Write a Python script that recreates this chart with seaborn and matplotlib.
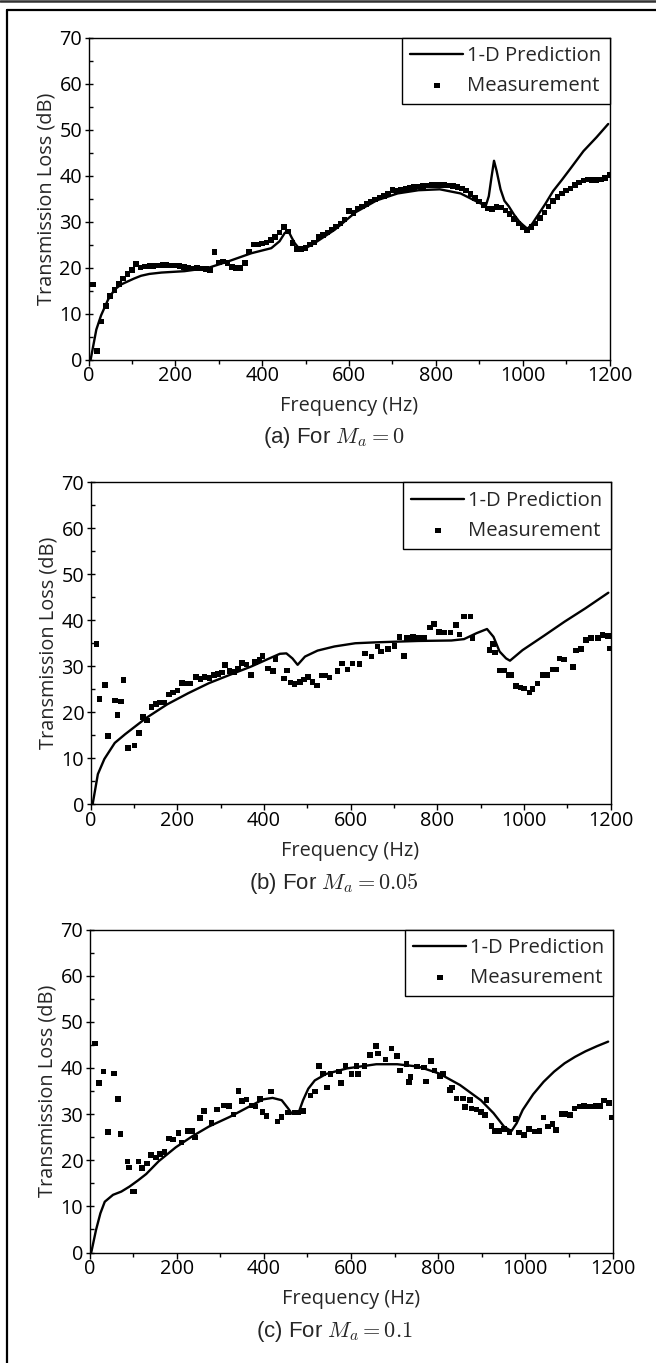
import matplotlib
matplotlib.use("Agg")
import numpy as np
import pandas as pd
import seaborn as sns
import matplotlib.pyplot as plt
from matplotlib.ticker import MultipleLocator
from matplotlib.lines import Line2D

# ---------------- data ----------------
# (a) Ma = 0
pred_a_freq = [5, 12, 18, 29, 45, 60, 75, 91, 105, 121, 140, 168, 221, 275, 321, 375, 421, 440, 452, 460,
               468, 475, 487, 500, 519, 567, 615, 664, 712, 760, 809, 857, 895, 915, 922, 928, 934, 940, 949, 958,
               968, 980, 992, 1000, 1011, 1022, 1036, 1052, 1070, 1090, 1110, 1140, 1170, 1197]
pred_a_tl = [0, 3.5, 6.5, 9.6, 13.0, 15.2, 16.3, 17.0, 17.6, 18.2, 18.6, 18.9, 19.2, 19.9, 21.3, 23.1, 24.2, 25.7, 27.5, 28.0,
             26.5, 25.3, 23.9, 24.2, 25.2, 28.2, 32.0, 34.6, 36.1, 36.8, 37.0, 36.1, 34.3, 33.4, 35.5, 39.5, 43.2, 41.0, 37.0, 34.5,
             33.3, 31.5, 30.0, 29.3, 28.4, 29.5, 31.5, 33.8, 36.6, 39.0, 41.5, 45.3, 48.3, 51.2]
meas_a_freq = list(range(10, 1201, 10))
meas_a_tl = [16.3, 1.8, 8.3, 11.6, 13.8, 15.1, 16.4, 17.6, 18.6, 19.4,
             20.8, 20.0, 20.2, 20.3, 20.3, 20.4, 20.6, 20.5, 20.4, 20.4,
             20.3, 20.1, 19.9, 19.8, 19.9, 19.8, 19.7, 19.5, 23.4, 21.1,
             21.3, 21.0, 20.1, 19.9, 19.9, 21.0, 23.5, 25.0, 25.0, 25.2,
             25.4, 26.0, 26.6, 27.6, 28.8, 27.8, 25.3, 24.0, 24.0, 24.2,
             25.0, 25.4, 26.6, 27.1, 27.6, 28.3, 28.9, 29.6, 30.4, 32.3,
             31.8, 32.8, 33.3, 33.8, 34.3, 34.8, 35.2, 35.6, 36.0, 36.9,
             36.6, 36.9, 37.1, 37.3, 37.5, 37.6, 37.7, 37.8, 37.9, 37.9,
             37.9, 37.9, 37.8, 37.7, 37.5, 37.2, 36.7, 36.0, 35.1, 34.3,
             33.6, 32.8, 32.7, 33.1, 33.0, 32.4, 31.6, 30.6, 29.6, 28.7,
             28.2, 28.8, 29.6, 30.8, 32.0, 33.3, 34.4, 35.3, 36.1, 36.7,
             37.2, 37.9, 38.5, 38.9, 39.1, 39.0, 39.0, 39.1, 39.4, 40.1]

# (b) Ma = 0.05
pred_b_freq = [5, 17, 32, 56, 80, 128, 177, 225, 273, 321, 370, 408, 437, 452, 466, 478, 495, 524, 563, 611,
               659, 756, 833, 862, 891, 915, 930, 944, 959, 968, 997, 1046, 1094, 1142, 1195]
pred_b_tl = [0, 6.5, 9.8, 13.3, 15.2, 18.7, 21.7, 24.1, 26.3, 28.1, 29.9, 31.5, 32.7, 32.8, 31.7, 30.3, 32.1, 33.4, 34.3, 35.0,
             35.2, 35.5, 35.6, 35.9, 37.2, 38.1, 36.4, 33.2, 31.7, 31.2, 33.5, 36.6, 39.7, 42.6, 46.0]
meas_b_freq = [14, 21, 33, 41, 56, 62, 71, 76, 87, 102,
               112, 121, 131, 141, 151, 160, 170, 181, 191, 201,
               211, 221, 231, 244, 254, 263, 275, 285, 294, 303,
               311, 321, 331, 340, 350, 360, 371, 380, 390, 397,
               410, 421, 427, 446, 453, 462, 471, 483, 493, 502,
               512, 523, 533, 542, 552, 570, 581, 593, 605, 621,
               633, 648, 662, 671, 686, 702, 713, 723, 731, 744,
               756, 770, 783, 793, 804, 816, 831, 844, 852, 862,
               877, 882, 921, 929, 933, 944, 954, 965, 971, 982,
               992, 1001, 1013, 1020, 1032, 1043, 1055, 1066, 1074, 1082,
               1093, 1113, 1120, 1132, 1144, 1155, 1171, 1182, 1194, 1199]
meas_b_tl = [34.8, 22.9, 25.9, 14.8, 22.5, 19.4, 22.3, 27.0, 12.2, 12.7,
             15.4, 18.9, 18.2, 21.1, 21.8, 22.1, 22.1, 23.8, 24.3, 24.7,
             26.3, 26.2, 26.2, 27.7, 27.2, 27.6, 27.4, 28.1, 28.3, 28.6,
             30.3, 29.0, 28.8, 29.5, 30.7, 30.4, 28.1, 30.9, 31.3, 32.2,
             29.5, 29.0, 31.6, 27.3, 29.1, 26.5, 26.1, 26.6, 27.1, 27.7,
             26.6, 25.8, 28.0, 28.0, 27.5, 29.0, 30.6, 29.3, 30.6, 30.5,
             32.8, 32.1, 34.3, 33.2, 33.7, 34.4, 36.4, 32.2, 36.1, 36.4,
             36.1, 36.1, 38.4, 39.2, 37.5, 37.3, 37.3, 39.0, 36.9, 40.8,
             40.8, 36.1, 33.5, 34.8, 33.0, 29.1, 29.1, 28.1, 28.1, 25.7,
             25.4, 25.1, 24.3, 25.0, 26.2, 28.1, 28.1, 29.3, 29.3, 31.7,
             31.5, 29.8, 33.4, 33.7, 35.7, 36.1, 36.1, 36.8, 36.6, 33.9]

# (c) Ma = 0.1
pred_c_freq = [4, 15, 25, 35, 54, 73, 92, 111, 130, 159, 198, 236, 274, 322, 370, 399, 420, 441, 456, 464,
               479, 490, 502, 517, 543, 591, 658, 706, 754, 802, 850, 898, 927, 951, 968, 980, 994, 1018, 1042, 1066,
               1090, 1114, 1138, 1164, 1190]
pred_c_tl = [0, 4.9, 8.5, 11.0, 12.5, 13.2, 14.3, 15.6, 17.0, 19.8, 22.8, 25.2, 27.3, 29.4, 31.8, 33.2, 33.5, 33.0, 31.2, 30.1,
             30.1, 33.0, 35.5, 37.3, 38.7, 39.9, 40.8, 40.8, 40.3, 38.8, 36.3, 33.0, 30.2, 27.3, 26.3, 28.0, 30.9, 34.3, 37.0, 39.2,
             41.0, 42.4, 43.6, 44.7, 45.7]
meas_c_freq = [13, 22, 32, 42, 56, 66, 71, 87, 91, 99,
               103, 112, 121, 132, 141, 152, 162, 172, 182, 192,
               204, 211, 225, 236, 242, 253, 263, 280, 292, 309,
               320, 330, 342, 350, 360, 372, 381, 391, 397, 406,
               416, 431, 441, 456, 470, 479, 491, 507, 517, 526,
               536, 545, 553, 572, 577, 587, 601, 613, 616, 631,
               643, 657, 662, 679, 693, 706, 713, 727, 733, 737,
               752, 768, 772, 783, 792, 804, 811, 827, 832, 842,
               857, 861, 873, 876, 888, 898, 907, 911, 922, 931,
               941, 951, 964, 977, 986, 997, 1008, 1022, 1032, 1042,
               1052, 1062, 1071, 1083, 1092, 1103, 1113, 1125, 1135, 1148,
               1161, 1171, 1181, 1192, 1199]
meas_c_tl = [45.3, 36.7, 39.2, 26.1, 38.8, 33.3, 25.7, 19.7, 18.4, 13.2,
             13.2, 19.7, 18.3, 19.3, 21.1, 20.6, 21.3, 21.8, 24.7, 24.5,
             25.9, 23.8, 26.3, 26.3, 24.9, 29.2, 30.7, 28.1, 31.0, 31.9,
             31.7, 29.9, 35.0, 32.8, 33.2, 31.9, 31.6, 33.3, 30.5, 29.6,
             34.9, 28.4, 29.4, 30.3, 30.3, 30.3, 30.7, 34.0, 34.9, 40.4,
             38.8, 35.8, 38.7, 39.2, 36.7, 40.5, 38.7, 40.4, 38.7, 40.4,
             42.8, 44.7, 43.1, 41.8, 44.2, 42.6, 39.4, 40.8, 37.0, 38.0,
             40.3, 40.1, 37.1, 41.5, 39.4, 38.2, 38.7, 35.2, 35.8, 33.4,
             33.4, 31.5, 33.0, 31.2, 31.0, 30.5, 29.8, 33.0, 27.4, 26.3,
             26.3, 26.8, 26.1, 28.9, 26.0, 25.5, 26.8, 26.2, 26.3, 29.3,
             27.3, 27.8, 26.5, 30.0, 30.0, 29.8, 31.2, 31.6, 31.7, 31.6,
             31.7, 31.7, 32.9, 32.4, 29.3]

captions = ["(a) For $M_a = 0$", "(b) For $M_a = 0.05$", "(c) For $M_a = 0.1$"]
x_ticks = [0, 200, 400, 600, 800, 1000, 1200]
y_ticks = [0, 10, 20, 30, 40, 50, 60, 70]

# ---------------- style ----------------
sns.set_theme(style="ticks")
plt.rcParams['font.family'] = ['Open Sans', 'DejaVu Sans']
plt.rcParams['mathtext.fontset'] = 'cm'
plt.rcParams['axes.edgecolor'] = 'black'
plt.rcParams['axes.linewidth'] = 1.0
plt.rcParams['xtick.color'] = 'black'
plt.rcParams['ytick.color'] = 'black'

W, H = 656, 1363
fig = plt.figure(figsize=(W / 100, H / 100), dpi=100)

# axes boxes in pixels: left, top, right, bottom
boxes = [(88.5, 37.5, 609.5, 359.5),
         (90.5, 482.5, 610.5, 804.0),
         (89.5, 929.5, 612.5, 1252.5)]
cap_y = [437, 884, 1332]

panels = [(pred_a_freq, pred_a_tl, meas_a_freq, meas_a_tl),
          (pred_b_freq, pred_b_tl, meas_b_freq, meas_b_tl),
          (pred_c_freq, pred_c_tl, meas_c_freq, meas_c_tl)]

fs = 14.3
lfs = 14.6
for i, (pf, pv, mf, mv) in enumerate(panels):
    l, t, r, b = boxes[i]
    ax = fig.add_axes([l / W, 1 - b / H, (r - l) / W, (b - t) / H])
    pred_df = pd.DataFrame({"Frequency": pf, "TL": pv})
    meas_df = pd.DataFrame({"Frequency": mf, "TL": mv})
    sns.lineplot(data=pred_df, x="Frequency", y="TL", ax=ax, color="black", linewidth=1.7,
                 sort=False, estimator=None, label="1-D Prediction")
    sns.scatterplot(data=meas_df, x="Frequency", y="TL", ax=ax, marker="s", s=16,
                    color="black", edgecolor="none", linewidth=0, label="Measurement", clip_on=True)
    ax.set_xlim(0, 1200)
    ax.set_ylim(0, 70)
    ax.set_xticks(x_ticks)
    ax.set_yticks(y_ticks)
    ax.xaxis.set_minor_locator(MultipleLocator(100))
    ax.yaxis.set_minor_locator(MultipleLocator(5))
    ax.tick_params(axis='x', which='major', direction='out', length=4, width=1.0, labelsize=fs, pad=1.0)
    ax.tick_params(axis='x', which='minor', direction='out', length=3, width=1.0)
    ax.tick_params(axis='y', which='major', direction='inout', length=6, width=1.0, labelsize=fs, pad=1.5)
    ax.tick_params(axis='y', which='minor', direction='in', length=3, width=1.0)
    ax.set_xlabel("Frequency (Hz)", fontsize=fs, labelpad=7)
    ax.set_ylabel("Transmission Loss (dB)", fontsize=fs, labelpad=2)
    for sp in ax.spines.values():
        sp.set_linewidth(1.0)
        sp.set_color('black')
    leg = ax.legend(loc='upper right', borderaxespad=0, frameon=True, fancybox=False,
                    edgecolor='black', fontsize=lfs, handlelength=2.6, handletextpad=0.2,
                    borderpad=0.4, labelspacing=0.5, markerscale=1.0)
    leg.get_frame().set_linewidth(1.0)
    leg.get_frame().set_alpha(1)
    fig.text(334 / W, 1 - cap_y[i] / H, captions[i], ha='center', va='center',
             fontsize=16, family=['Liberation Sans', 'DejaVu Sans'])

# outer frame lines
fig.add_artist(Line2D([0, 1], [1 - 1 / H, 1 - 1 / H], transform=fig.transFigure,
                      color='#333333', linewidth=1.8))
fig.add_artist(Line2D([6.5 / W, 1], [1 - 10.3 / H, 1 - 10.3 / H], transform=fig.transFigure,
                      color='black', linewidth=1.6))
fig.add_artist(Line2D([6.5 / W, 6.5 / W], [1 - 10.3 / H, 0], transform=fig.transFigure,
                      color='black', linewidth=1.6))

fig.savefig("out.png", dpi=100)
